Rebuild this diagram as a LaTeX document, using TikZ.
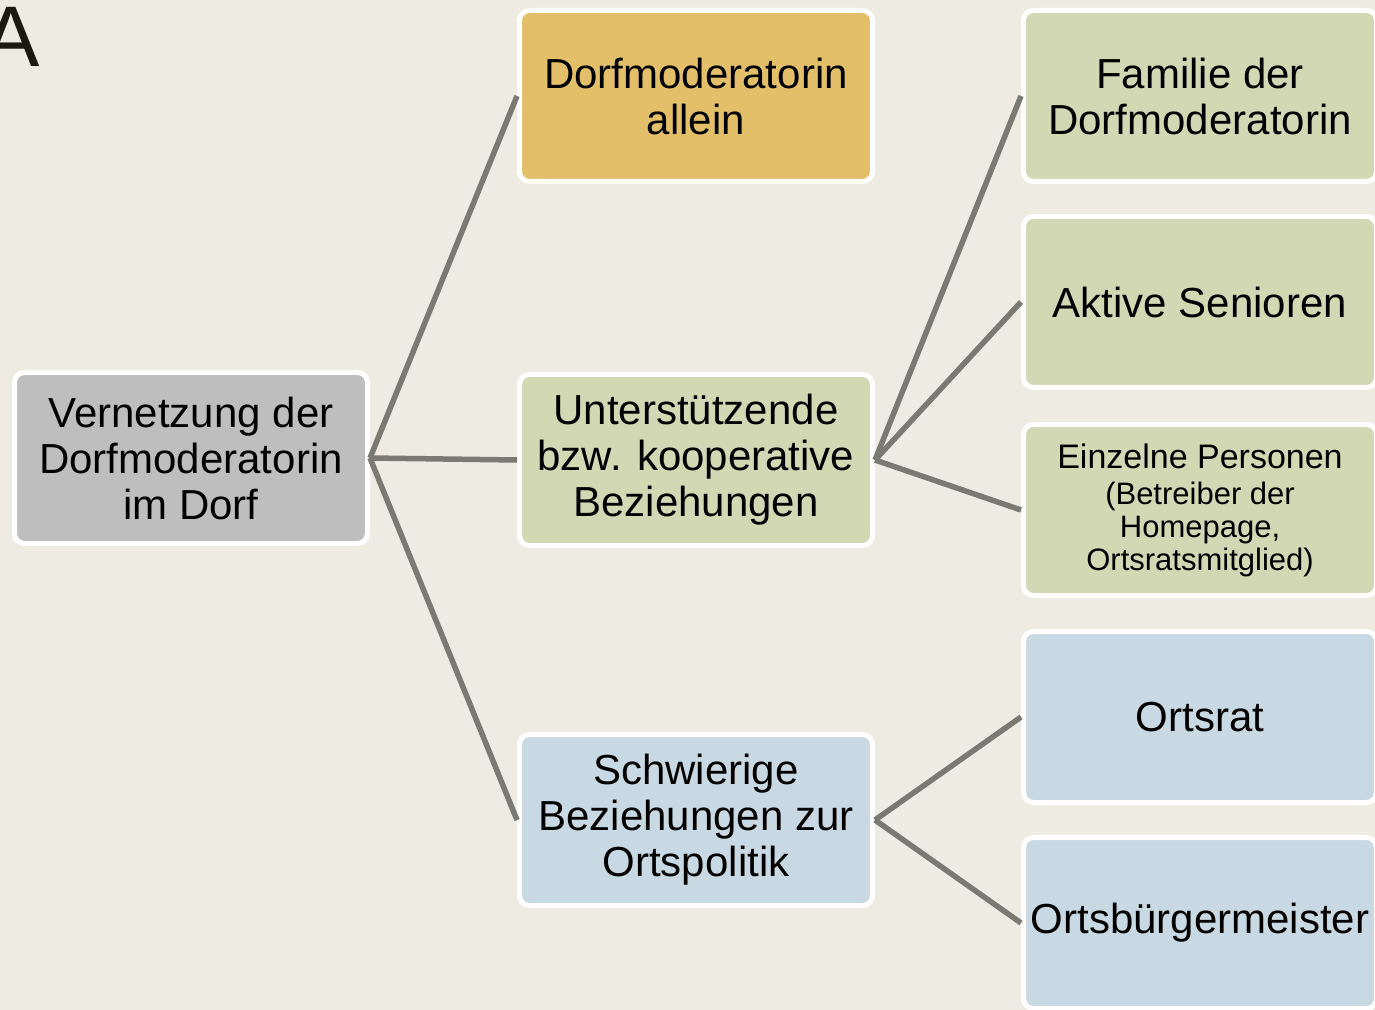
\documentclass[tikz,border=0pt]{standalone}
\usepackage{fontspec}
\setmainfont{Liberation Sans}
\usetikzlibrary{positioning}

\definecolor{bgcol}{HTML}{EEEBE3}
\definecolor{linecol}{HTML}{7A7A72}
\definecolor{grayfill}{HTML}{BEBEBE}
\definecolor{goldfill}{HTML}{E4BF6A}
\definecolor{greenfill}{HTML}{D2D8B3}
\definecolor{bluefill}{HTML}{C9D9E3}
\definecolor{lettercol}{HTML}{1A1A10}

\begin{document}
\begin{tikzpicture}[x=0.5pt,y=-0.5pt,
  box/.style={draw=white, line width=2.5pt, rounded corners=5pt,
    minimum width=176.5pt, minimum height=85.5pt, inner sep=2pt,
    align=center, text=black, font=\fontsize{21}{23}\selectfont},
  link/.style={draw=linecol, line width=2.75pt}]
\def\xa{191}
\def\xb{696}
\def\xc{1200}

\def\ya{96}
\def\yb{302}
\def\yc{460}
\def\yd{510}
\def\ye{717}
\def\yf{820}
\def\yg{923}

\fill[bgcol] (0,0) rectangle (1375,1010);
\useasboundingbox (0,0) rectangle (1375,1010);

\node[anchor=base, inner sep=0pt, text=lettercol, font=\fontsize{43}{43}\selectfont] (lbl) at (11,67) {A};

\node[box, fill=grayfill] (vern) at (\xa, 458) {Vernetzung der\\Dorfmoderatorin\\im Dorf};
\node[box, fill=goldfill] (allein) at (\xb, \ya) {Dorfmoderatorin\\allein};
\node[box, fill=greenfill] (unter) at (\xb, \yc) {Unterstützende\\bzw. kooperative\\Beziehungen};
\node[box, fill=bluefill] (schw) at (\xb, \yf) {Schwierige\\Beziehungen zur\\Ortspolitik};

\node[box, fill=greenfill] (fam) at (\xc, \ya) {Familie der\\Dorfmoderatorin};
\node[box, fill=greenfill] (akt) at (\xc, \yb) {Aktive Senioren};
\node[box, fill=greenfill, font=\fontsize{15.5}{16.5}\selectfont] (einz) at (\xc, \yd)
  {{\fontsize{17}{18}\selectfont Einzelne Personen}\\[1.5pt](Betreiber der\\Homepage,\\Ortsratsmitglied)};
\node[box, fill=bluefill] (orat) at (\xc, \ye) {Ortsrat};
\node[box, fill=bluefill] (obm) at (\xc, \yg) {Ortsbürgermeister};

\draw[link] (vern.east) -- (allein.west);
\draw[link] (vern.east) -- (unter.west);
\draw[link] (vern.east) -- (schw.west);
\draw[link] (unter.east) -- (fam.west);
\draw[link] (unter.east) -- (akt.west);
\draw[link] (unter.east) -- (einz.west);
\draw[link] (schw.east) -- (orat.west);
\draw[link] (schw.east) -- (obm.west);

\end{tikzpicture}
\end{document}
